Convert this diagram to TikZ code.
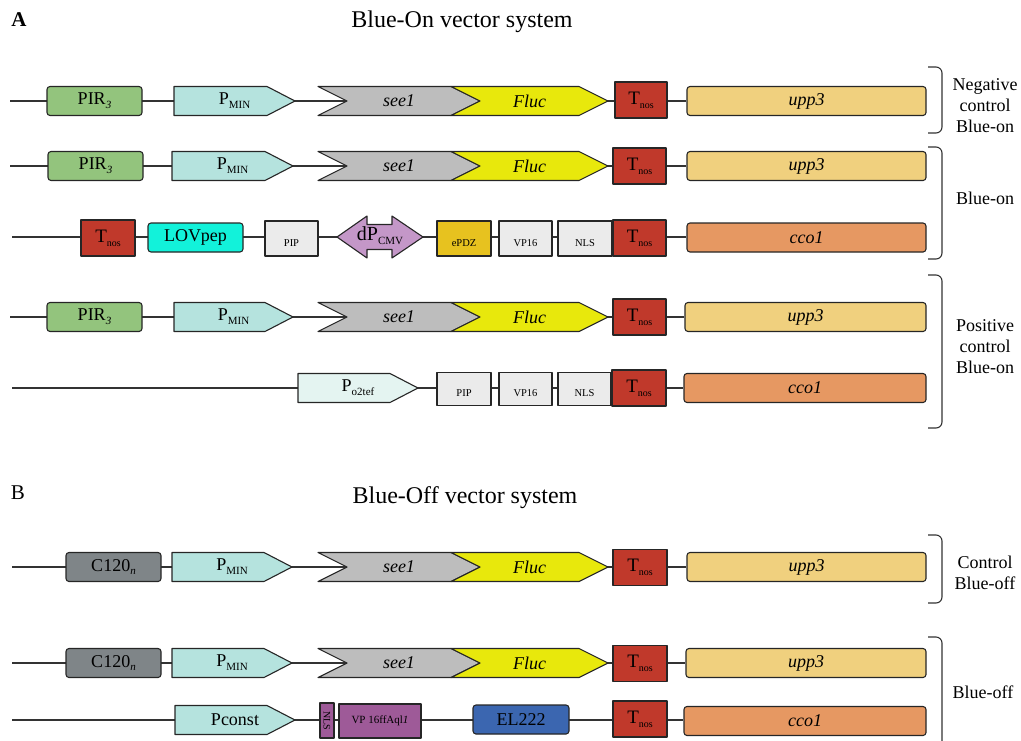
\documentclass[tikz,border=0pt]{standalone}
\usepackage{fontspec}
\setmainfont{Liberation Serif}
\usetikzlibrary{backgrounds}
\definecolor{pirg}{HTML}{93C47D}
\definecolor{pminc}{HTML}{B5E3DE}
\definecolor{seec}{HTML}{BDBDBD}
\definecolor{flucc}{HTML}{E8E80C}
\definecolor{tnosc}{HTML}{C0392B}
\definecolor{uppc}{HTML}{F0D07E}
\definecolor{ccoc}{HTML}{E69862}
\definecolor{lovc}{HTML}{12F2DA}
\definecolor{gpart}{HTML}{EBEBEB}
\definecolor{dcmvc}{HTML}{C497C8}
\definecolor{epdzc}{HTML}{E7C21F}
\definecolor{o2tefc}{HTML}{E4F4F1}
\definecolor{c120c}{HTML}{7F8588}
\definecolor{vppc}{HTML}{9E5A98}
\definecolor{elc}{HTML}{3B66B0}
\newcommand\fs[1]{\fontsize{#1}{#1}\selectfont}
\newcommand\sbs[1]{\raisebox{-0.22em}{\fs{11}#1}}
\newcommand\lo[1]{\smash{\raisebox{-7.5pt}{#1}}}
\newcommand\Tnos{{\fs{19}T\raisebox{-0.2em}{\fs{10}nos}}}
\newcommand\promo[6]{%
  \draw[part,fill=#5] (#2,#4-14.5) -- (#3-28,#4-14.5) -- (#3,#4) -- (#3-28,#4+14.5) -- (#2,#4+14.5) -- cycle;
  \pgfmathsetmacro\pW{#3-#2}\pgfmathsetmacro\pC{(#2+#3)/2}%
  \node[txt,minimum width=\pW,minimum height=29] (#1) at (\pC,#4) {#6};}
\newcommand\chev[6]{%
  \draw[part,fill=#5] (#2,#4-14.5) -- (#3-29,#4-14.5) -- (#3,#4) -- (#3-29,#4+14.5) -- (#2,#4+14.5) -- (#2+29,#4) -- cycle;
  \pgfmathsetmacro\pW{#3-#2}\pgfmathsetmacro\pC{(#2+#3)/2}%
  \node[txt,minimum width=\pW,minimum height=29] (#1) at (\pC,#4) {#6};}
\tikzset{
  part/.style={draw=black!85, line width=1.1pt, line join=round},
  txt/.style={inner sep=0pt, font=\fs{18}},
  box/.style={part, inner sep=0pt, font=\fs{18}},
  rbox/.style={box, rounded corners=3pt},
  small/.style={box, fill=gpart, font=\fs{10.5}},
  bb/.style={draw=black!80, line width=1.4pt},
  brk/.style={draw=black!80, line width=1.1pt, rounded corners=6pt},
  lab/.style={align=center, inner sep=0pt, font=\fontsize{18}{21}\selectfont},
}
\begin{document}
\begin{tikzpicture}[x=1pt,y=-1pt]
\useasboundingbox (0,0) rectangle (1021,740);
% headings
\node[font=\bfseries\fs{21}] (lA) at (19,20) {A};
\node[font=\fs{24}] (tA) at (462,22) {Blue-On vector system};
\node[font=\fs{21}] (lB) at (18,493) {B};
\node[font=\fs{24}] (tB) at (465,498) {Blue-Off vector system};
% row 1
\coordinate (s1) at (10,101);
\node[rbox,fill=pirg,minimum width=95,minimum height=29] (pir1) at (94.5,101) {PIR\sbs{\textit{3}}};
\promo{pmin1}{174}{295}{101}{pminc}{P\sbs{MIN}}
\chev{seea}{318}{480}{101}{seec}{\textit{see1}}
\chev{fluca}{451}{608}{101}{flucc}{\textit{Fluc}}
\node[box,fill=tnosc,minimum width=52,minimum height=36] (tnos1) at (641,100) {\Tnos};
\node[rbox,fill=uppc,minimum width=239,minimum height=29] (upp1) at (806.5,101) {\textit{upp3}};
% row 2
\coordinate (s2) at (10,166);
\node[rbox,fill=pirg,minimum width=95,minimum height=29] (pir2) at (95.5,166) {PIR\sbs{\textit{3}}};
\promo{pmin2}{172}{293}{166}{pminc}{P\sbs{MIN}}
\chev{seeb}{318}{480}{166}{seec}{\textit{see1}}
\chev{flucb}{451}{608}{166}{flucc}{\textit{Fluc}}
\node[box,fill=tnosc,minimum width=53,minimum height=36] (tnos2) at (639.5,166) {\Tnos};
\node[rbox,fill=uppc,minimum width=239,minimum height=29] (upp2) at (806.5,166) {\textit{upp3}};
% row 3
\coordinate (s3) at (12,237);
\node[box,fill=tnosc,minimum width=54,minimum height=36] (tnos3) at (108,238) {\Tnos};
\node[rbox,fill=lovc,minimum width=95,minimum height=29] (lov) at (195.5,237.5) {LOVpep};
\node[small,minimum width=53,minimum height=35] (pip1) at (291.5,238.5) {\lo{PIP}};
\draw[part,fill=dcmvc] (337,237) -- (367,216) -- (367,224.5) -- (392,224.5) -- (392,216) -- (423,237) -- (392,258) -- (392,249.5) -- (367,249.5) -- (367,258) -- cycle;
\node[inner sep=0pt,font=\fs{20}] (dcmv) at (380,236) {dP\raisebox{-0.2em}{\fs{11}CMV}};
\node[small,fill=epdzc,minimum width=54,minimum height=35] (epdz) at (464,238.5) {\lo{ePDZ}};
\node[small,minimum width=53,minimum height=35] (vp1) at (525.5,238.5) {\lo{VP16}};
\node[small,minimum width=54,minimum height=35] (nls1) at (585,238.5) {\lo{NLS}};
\node[box,fill=tnosc,minimum width=53,minimum height=36] (tnos4) at (639.5,238) {\Tnos};
\node[rbox,fill=ccoc,minimum width=239,minimum height=29] (cco1) at (806.5,237.5) {\textit{cco1}};
% row 4
\coordinate (s4) at (10,317);
\node[rbox,fill=pirg,minimum width=95,minimum height=29] (pir3) at (94.5,317) {PIR\sbs{\textit{3}}};
\promo{pmin3}{174}{293}{317}{pminc}{P\sbs{MIN}}
\chev{seec}{318}{480}{317}{seec}{\textit{see1}}
\chev{flucc}{451}{608}{317}{flucc}{\textit{Fluc}}
\node[box,fill=tnosc,minimum width=53,minimum height=36] (tnos5) at (639.5,317) {\Tnos};
\node[rbox,fill=uppc,minimum width=241,minimum height=29] (upp3) at (805.5,317) {\textit{upp3}};
% row 5
\coordinate (s5) at (12,388);
\promo{o2tef}{298}{418}{388}{o2tefc}{P\sbs{o2tef}}
\node[small,minimum width=54,minimum height=33] (pip2) at (464,389) {\lo{PIP}};
\node[small,minimum width=53,minimum height=33] (vp2) at (525.5,389) {\lo{VP16}};
\node[small,minimum width=53,minimum height=33] (nls2) at (584.5,389) {\lo{NLS}};
\node[box,fill=tnosc,minimum width=54,minimum height=36] (tnos6) at (639,388) {\Tnos};
\node[rbox,fill=ccoc,minimum width=242,minimum height=29] (cco2) at (805,388) {\textit{cco1}};
% row 6
\coordinate (s6) at (12,567);
\node[rbox,fill=c120c,minimum width=95,minimum height=29] (c120a) at (113.5,567) {C120\sbs{\textit{n}}};
\promo{pmin4}{172}{292}{567}{pminc}{P\sbs{MIN}}
\chev{seed}{318}{480}{567}{seec}{\textit{see1}}
\chev{flucd}{451}{608}{567}{flucc}{\textit{Fluc}}
\node[box,fill=tnosc,minimum width=54,minimum height=36] (tnos7) at (640,567.5) {\Tnos};
\node[rbox,fill=uppc,minimum width=239,minimum height=29] (upp4) at (806.5,567) {\textit{upp3}};
% row 7
\coordinate (s7) at (12,663);
\node[rbox,fill=c120c,minimum width=95,minimum height=29] (c120b) at (113.5,663) {C120\sbs{\textit{n}}};
\promo{pmin5}{172}{292}{663}{pminc}{P\sbs{MIN}}
\chev{seee}{318}{480}{663}{seec}{\textit{see1}}
\chev{fluce}{451}{608}{663}{flucc}{\textit{Fluc}}
\node[box,fill=tnosc,minimum width=54,minimum height=36] (tnos8) at (640,663.5) {\Tnos};
\node[rbox,fill=uppc,minimum width=240,minimum height=29] (upp5) at (806,663) {\textit{upp3}};
% row 8
\coordinate (s8) at (12,720);
\promo{pconst}{175}{295}{720}{pminc}{Pconst}
\node[box,fill=vppc,rotate=-90,minimum width=35,minimum height=14,font=\fs{10}] (nls3) at (327,720.5) {NLS};
\node[box,fill=vppc,minimum width=82,minimum height=34,font=\fs{11}] (vpa) at (380,721) {VP 16ffAql\textit{1}};
\node[rbox,fill=elc,minimum width=96,minimum height=29] (el) at (521,719.5) {EL222};
\node[box,fill=tnosc,minimum width=54,minimum height=36] (tnos9) at (640,719) {\Tnos};
\node[rbox,fill=ccoc,minimum width=242,minimum height=29] (cco3) at (805,721) {\textit{cco1}};
% backbones
\begin{scope}[on background layer]
\draw[bb] (s1) -- (s1 -| upp1.west);
\draw[bb] (s2) -- (s2 -| upp2.west);
\draw[bb] (s3) -- (s3 -| cco1.west);
\draw[bb] (s4) -- (s4 -| upp3.west);
\draw[bb] (s5) -- (s5 -| cco2.west);
\draw[bb] (s6) -- (s6 -| upp4.west);
\draw[bb] (s7) -- (s7 -| upp5.west);
\draw[bb] (s8) -- (s8 -| cco3.west);
\end{scope}
% brackets
\draw[brk] (928,67) -- (942,67) -- (942,133) -- (928,133);
\draw[brk] (928,147) -- (942,147) -- (942,259) -- (928,259);
\draw[brk] (928,275) -- (942,275) -- (942,428) -- (928,428);
\draw[brk] (928,535) -- (942,535) -- (942,603) -- (928,603);
\draw[brk] (928,637) -- (942,637) -- (942,745);
% group labels
\node[lab] (neg) at (985,106) {Negative\\control\\Blue-on};
\node[lab] (bon) at (985,198) {Blue-on};
\node[lab] (pos) at (985,347) {Positive\\control\\Blue-on};
\node[lab] (coff) at (985,573) {Control\\Blue-off};
\node[lab] (boff) at (983,692) {Blue-off};
\end{tikzpicture}
\end{document}
